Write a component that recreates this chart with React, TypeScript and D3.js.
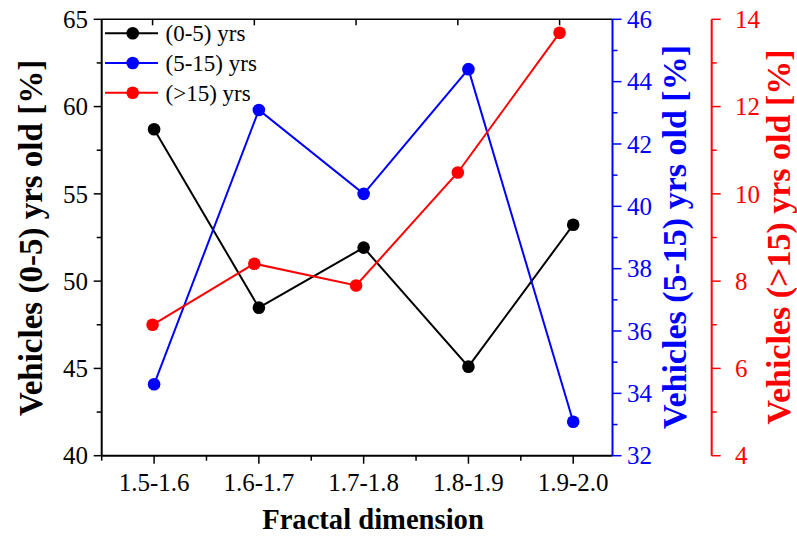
import React, { useEffect, useRef } from "react";
import * as d3 from "d3";

const categories = ["1.5-1.6", "1.6-1.7", "1.7-1.8", "1.8-1.9", "1.9-2.0"];
const young = [58.7, 48.48, 51.92, 45.1, 53.23];
const mid = [34.29, 43.09, 40.4, 44.4, 33.09];
const old = [7.0, 8.4, 7.9, 10.49, 13.69];

const leftTicks = [40, 45, 50, 55, 60, 65];
const blueTicks = [32, 34, 36, 38, 40, 42, 44, 46];
const redTicks = [4, 6, 8, 10, 12, 14];

const legendLabels = ["(0-5) yrs", "(5-15) yrs", "(>15) yrs"];
const colors = ["#000000", "#0000ff", "#ff0000"];

export default function App() {
  const ref = useRef<SVGSVGElement>(null);
  const W = 797, H = 538;
  const L = 101.7, R = 612.5, T = 19.3, B = 455.7;
  const redAxisX = 711.7;

  useEffect(() => {
    const svg = d3.select(ref.current);
    svg.selectAll("*").remove();
    document.body.style.margin = "0";

    const xB = d3.scaleLinear().domain([0.5, 5.375]).range([L, R]);
    const xT = d3.scaleLinear().domain([0.5, 5.52]).range([L, R]);
    const yL = d3.scaleLinear().domain([40, 65]).range([B, T]);
    const yBl = d3.scaleLinear().domain([32, 46]).range([B, T]);
    const yR = d3.scaleLinear().domain([4, 14]).range([B, T]);
    const idx = categories.map((_, i) => i + 1);

    svg.append("rect").attr("width", W).attr("height", H).attr("fill", "#fff");

    const ln = (x1: number, x2: number, y1: number, y2: number, c: string, w: number) =>
      svg.append("line").attr("x1", x1).attr("x2", x2).attr("y1", y1).attr("y2", y2).attr("stroke", c).attr("stroke-width", w);
    const tx = (x: number, y: number, s: string, size: number, c: string, anchor: string, bold = false, dy = "0.35em") =>
      svg.append("text").attr("x", x).attr("y", y).attr("dy", dy).attr("text-anchor", anchor)
        .style("font-family", "Liberation Serif, Times New Roman, serif", "important")
        .style("font-size", size + "px").style("font-weight", bold ? "bold" : "normal")
        .attr("fill", c).text(s);

    ln(L, R, T, T, "#000", 1.5);
    ln(L, R, B, B, "#000", 2);
    ln(L, L, T, B, "#000", 2);
    ln(R, R, T, B, "#0000ff", 2);
    ln(redAxisX, redAxisX, T, B, "#ff0000", 2);

    idx.forEach((v) => {
      ln(xB(v), xB(v), B, B + 8, "#000", 1.5);
      tx(xB(v), 491, categories[v - 1], 25, "#000", "middle", false, "0");
      ln(xT(v), xT(v), T, T + 6, "#000", 1.5);
    });
    [0.5, 1.5, 2.5, 3.5, 4.5].forEach((v) => ln(xB(v), xB(v), B, B + 5, "#000", 1.5));

    leftTicks.forEach((v) => { ln(L - 8, L, yL(v), yL(v), "#000", 1.5); tx(88, yL(v), String(v), 25, "#000", "end"); });
    d3.range(42.5, 65, 5).forEach((v) => ln(L - 5, L, yL(v), yL(v), "#000", 1.5));

    blueTicks.forEach((v) => { ln(R, R + 9, yBl(v), yBl(v), "#0000ff", 1.5); tx(627, yBl(v), String(v), 25, "#0000ff", "start"); });
    d3.range(33, 46, 2).forEach((v) => ln(R, R + 5, yBl(v), yBl(v), "#0000ff", 1.5));

    redTicks.forEach((v) => { ln(redAxisX, redAxisX + 9, yR(v), yR(v), "#ff0000", 1.5); tx(735, yR(v), String(v), 25, "#ff0000", "start"); });
    d3.range(5, 14, 2).forEach((v) => ln(redAxisX, redAxisX + 5, yR(v), yR(v), "#ff0000", 1.5));

    const series = [
      { data: young, x: xB, y: yL, color: colors[0] },
      { data: mid, x: xB, y: yBl, color: colors[1] },
      { data: old, x: xT, y: yR, color: colors[2] },
    ];
    series.forEach((s) => {
      const line = d3.line<number>().x((_, i) => s.x(i + 1)).y((d) => s.y(d));
      svg.append("path").attr("d", line(s.data) || "").attr("fill", "none").attr("stroke", s.color).attr("stroke-width", 2);
      s.data.forEach((d, i) => svg.append("circle").attr("cx", s.x(i + 1)).attr("cy", s.y(d)).attr("r", 6.3).attr("fill", s.color));
    });

    legendLabels.forEach((lab, i) => {
      const y = 33.3 + i * 29.7;
      ln(105, 158, y, y, colors[i], 2);
      svg.append("circle").attr("cx", 132.7).attr("cy", y).attr("r", 6.3).attr("fill", colors[i]);
      tx(165.5, y, lab, 23, "#000", "start");
    });

    tx(373, 529, "Fractal dimension", 28.6, "#000", "middle", true, "0");
    tx(0, 0, "Vehicles (0-5) yrs old [%]", 33, "#000", "middle", true, "0").attr("transform", "translate(41.5,238) rotate(-90)");
    tx(0, 0, "Vehicles (5-15) yrs old [%]", 34, "#0000ff", "middle", true, "0").attr("transform", "translate(686,237) rotate(-90)");
    tx(0, 0, "Vehicles (>15) yrs old [%]", 34, "#ff0000", "middle", true, "0").attr("transform", "translate(790,237) rotate(-90)");
  }, []);

  return <svg ref={ref} width={W} height={H} style={{ display: "block" }} />;
}
